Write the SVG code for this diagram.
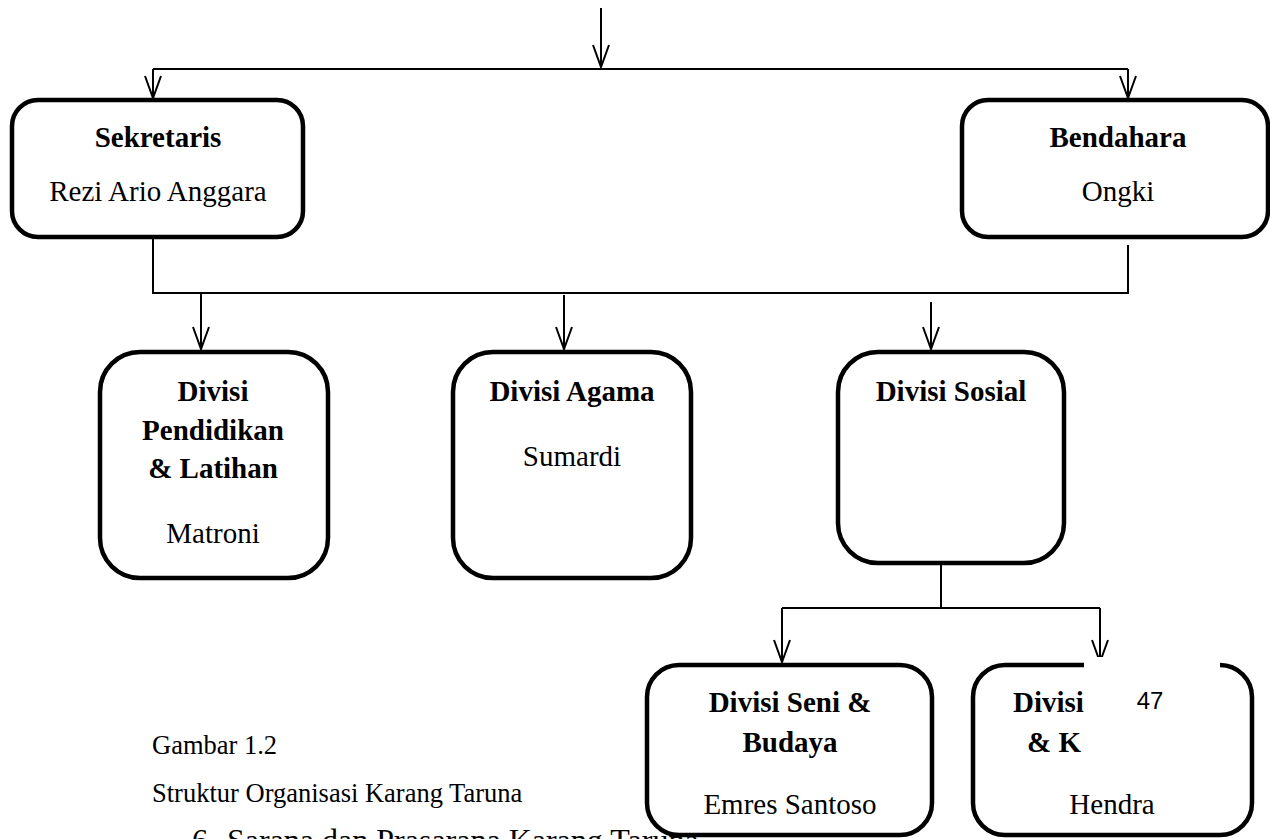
<svg xmlns="http://www.w3.org/2000/svg" width="1270" height="839" viewBox="0 0 1270 839">
<style>
.box{fill:#fff;stroke:#000;stroke-width:4.5}
.ln{fill:none;stroke:#000;stroke-width:2}
.b{font-family:"Liberation Serif",serif;font-weight:bold;font-size:29px;text-anchor:middle}
.n{font-family:"Liberation Serif",serif;font-size:29px;text-anchor:middle}
.l{text-anchor:start}
.cap{font-family:"Liberation Serif",serif;font-size:26.5px}
</style>
<defs>
<marker id="ah" markerUnits="userSpaceOnUse" markerWidth="30" markerHeight="22" viewBox="-26 -11 30 22" refX="0" refY="0" orient="auto">
<path d="M-22,-8 L0,0 L-22,8" fill="none" stroke="#000" stroke-width="2"/>
</marker>
</defs>
<text x="192" y="851" style="font-family:'Liberation Serif',serif;font-size:32px">6.<tspan x="227">Sarana dan Prasarana Karang Taruna</tspan></text>
<text class="cap" x="152" y="754">Gambar 1.2</text>
<text class="cap" x="152" y="802">Struktur Organisasi Karang Taruna</text>
<g id="connectors">
<line class="ln" x1="601" y1="8" x2="601" y2="67" marker-end="url(#ah)"/>
<polyline class="ln" points="153,69 1128,69"/>
<line class="ln" x1="153" y1="69" x2="153" y2="98" marker-end="url(#ah)"/>
<line class="ln" x1="1128" y1="69" x2="1128" y2="98" marker-end="url(#ah)"/>
<polyline class="ln" points="153,237 153,293 1128,293 1128,245"/>
<line class="ln" x1="201" y1="293" x2="201" y2="349" marker-end="url(#ah)"/>
<line class="ln" x1="564" y1="295" x2="564" y2="349" marker-end="url(#ah)"/>
<line class="ln" x1="931" y1="302" x2="931" y2="349" marker-end="url(#ah)"/>
<polyline class="ln" points="941,563 941,608"/>
<polyline class="ln" points="782,608 1100,608"/>
<line class="ln" x1="782" y1="608" x2="782" y2="662" marker-end="url(#ah)"/>
<line class="ln" x1="1100" y1="608" x2="1100" y2="662" marker-end="url(#ah)"/>
</g>
<g id="sekretaris">
<rect class="box" x="12" y="100" width="291" height="137" rx="26"/>
<text class="b" x="158" y="147">Sekretaris</text>
<text class="n" x="158" y="201">Rezi Ario Anggara</text>
</g>
<g id="bendahara">
<rect class="box" x="962" y="100" width="306" height="137" rx="26"/>
<text class="b" x="1118" y="147">Bendahara</text>
<text class="n" x="1118" y="201">Ongki</text>
</g>
<g id="pendidikan">
<rect class="box" x="100" y="352" width="228" height="226" rx="40"/>
<text class="b" x="213" y="401">Divisi</text>
<text class="b" x="213" y="440">Pendidikan</text>
<text class="b" x="213" y="478">&amp; Latihan</text>
<text class="n" x="213" y="543">Matroni</text>
</g>
<g id="agama">
<rect class="box" x="453" y="352" width="238" height="226" rx="40"/>
<text class="b" x="572" y="401">Divisi Agama</text>
<text class="n" x="572" y="466">Sumardi</text>
</g>
<g id="sosial">
<rect class="box" x="838" y="352" width="226" height="211" rx="40"/>
<text class="b" x="951" y="401">Divisi Sosial</text>
</g>
<g id="seni">
<rect class="box" x="647" y="665" width="285" height="170" rx="32"/>
<text class="b" x="790" y="712">Divisi Seni &amp;</text>
<text class="b" x="790" y="752">Budaya</text>
<text class="n" x="790" y="814">Emres Santoso</text>
</g>
<g id="divisi-k">
<rect class="box" x="973" y="665" width="279" height="170" rx="32"/>
<text class="b l" x="1013" y="712">Divisi</text>
<text class="b l" x="1027" y="752">&amp; K</text>
<text class="n" x="1112" y="814">Hendra</text>
</g>
<g id="page-number">
<rect x="1084" y="657" width="136" height="110" fill="#fff"/>
<text x="1150" y="709" style="font-family:'Liberation Sans',sans-serif;font-size:24px;text-anchor:middle">47</text>
</g>
</svg>
